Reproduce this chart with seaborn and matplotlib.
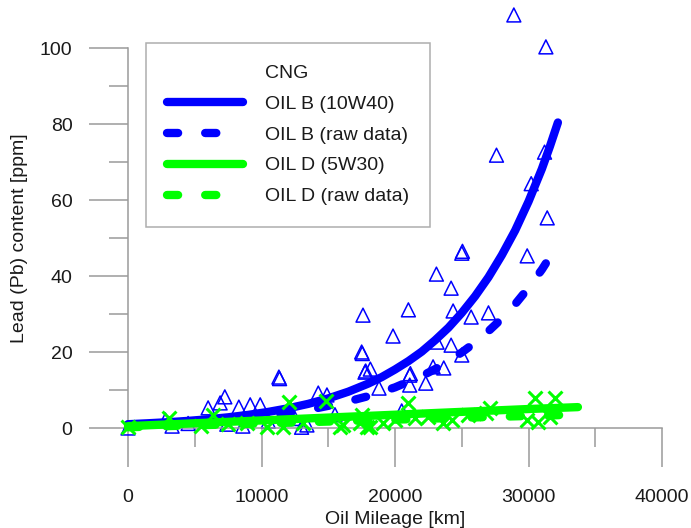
import matplotlib
matplotlib.use("Agg")
import matplotlib.pyplot as plt
from matplotlib.lines import Line2D
import seaborn as sns

# ---- data ----
oilB_raw_x = [0, 28900, 31300, 27600, 31200, 30200, 31400, 29900, 25000, 25050,
              23100, 24200, 17600, 21000, 24350, 25700, 27000, 19850, 17500, 17550,
              23150, 24200, 25000, 17750, 17800, 18150, 21100, 21150, 22850, 23650,
              18800, 21100, 22300, 11300, 11350, 14250, 14900, 6000, 6900, 7250,
              8300, 9150, 9900, 2800, 8600, 13400, 4500, 10500, 12500, 15500,
              13000, 20500, 3300, 7400]
oilB_raw_y = [0, 108.7, 100.3, 71.8, 72.6, 64.3, 55.3, 45.3, 46.0, 46.5,
              40.5, 36.8, 29.7, 31.1, 30.8, 29.2, 30.3, 24.2, 20.0, 19.6,
              22.6, 21.8, 19.2, 14.7, 15.0, 15.5, 13.9, 14.3, 16.1, 15.8,
              10.5, 11.3, 11.8, 13.4, 13.0, 9.2, 8.7, 5.3, 6.6, 8.2,
              5.5, 6.1, 6.1, 2.1, 0.5, 0.8, 1.2, 1.8, 2.5, 3.5,
              0.2, 4.5, 0.5, 1.0]

oilD_raw_x = [0, 3100, 6400, 8900, 10400, 11600, 12050, 13100, 14800, 15900,
              16100, 17400, 17500, 17900, 18100, 19100, 21000, 21500, 23600, 24300,
              27100, 29900, 30500, 30700, 31600, 32000, 5500, 7500, 25500, 22500,
              26800, 20000]
oilD_raw_y = [0.3, 2.6, 3.4, 1.3, 0.3, 0.3, 6.8, 1.3, 7.0, 0.3,
              0.8, 1.3, 3.4, 0.3, 0.3, 1.3, 6.6, 2.6, 1.3, 2.1,
              5.3, 2.1, 7.9, 1.6, 2.9, 7.9, 0.5, 1.0, 3.5, 3.0,
              4.0, 2.2]

oilB_fit_x = [0, 1500, 3000, 4500, 6000, 7500, 9000, 10500, 12000, 13500,
              15000, 16500, 18000, 19000, 20000, 21000, 22000, 23000, 24000, 25000,
              26000, 27000, 28000, 29000, 30000, 31000, 31600, 32200]
oilB_fit_y = [1.0, 1.25, 1.53, 1.88, 2.30, 2.82, 3.46, 4.24, 5.19, 6.36,
              7.8, 9.56, 11.7, 13.4, 15.4, 17.6, 20.1, 23.1, 26.4, 30.3,
              34.7, 39.7, 45.5, 52.0, 59.6, 68.2, 74.1, 80.4]

oilB_rawfit_x = [0, 2000, 4000, 6000, 8000, 10000, 12000, 14000, 16000, 18000,
                 20000, 22000, 23000, 24000, 25000, 26000, 27000, 28000, 29000, 30000,
                 31000, 31600]
oilB_rawfit_y = [0.91, 1.16, 1.49, 1.91, 2.44, 3.13, 4.0, 5.12, 6.55, 8.39,
                 10.7, 13.7, 15.5, 17.6, 19.9, 22.5, 25.5, 28.8, 32.6, 36.9,
                 41.7, 45.0]

oilD_fit_x = [0, 10000, 20000, 30000, 33700]
oilD_fit_y = [0.5, 2.0, 3.5, 5.0, 5.5]

oilD_rawfit_x = [0, 8000, 16000, 24000, 32400]
oilD_rawfit_y = [0.2, 1.0, 1.8, 2.6, 3.4]

legend_title = "CNG"
legend_labels = ["OIL B (10W40)", "OIL B (raw data)", "OIL D (5W30)", "OIL D (raw data)"]
x_label = "Oil Mileage [km]"
y_label = "Lead (Pb) content [ppm]"
x_major = [0, 10000, 20000, 30000, 40000]
x_minor = [5000, 15000, 25000, 35000]
y_major = [0, 20, 40, 60, 80, 100]
y_minor = [10, 30, 50, 70, 90]

# ---- style ----
sns.set_style("white")
plt.rcParams["font.family"] = ["Liberation Sans", "DejaVu Sans"]
plt.rcParams["lines.scale_dashes"] = False

BLUE = "#0000ff"
GREEN = "#00ff00"
GRAY = "#9a9a9a"
TXT = "#1a1a1a"
FS = 14
LW = 6
DASH = (0, (8, 19.5))

fig = plt.figure(figsize=(6.91, 5.28), dpi=100)
ax = fig.add_axes([0.108, 0.1030, 0.8694, 0.8924])

sns.scatterplot(x=oilB_raw_x, y=oilB_raw_y, marker="^", s=100,
                facecolor="none", edgecolor=BLUE, linewidth=1.1, ax=ax, zorder=2)
sns.lineplot(x=oilB_fit_x, y=oilB_fit_y, color=BLUE, linewidth=LW,
             solid_capstyle="round", solid_joinstyle="round", ax=ax, zorder=3)
sns.lineplot(x=oilB_rawfit_x, y=oilB_rawfit_y, color=BLUE, linewidth=LW,
             linestyle=DASH, dash_capstyle="round", ax=ax, zorder=3)
sns.scatterplot(x=oilD_raw_x, y=oilD_raw_y, marker="x", s=100,
                color=GREEN, linewidth=2.2, ax=ax, zorder=4)
sns.lineplot(x=oilD_fit_x, y=oilD_fit_y, color=GREEN, linewidth=LW,
             solid_capstyle="round", ax=ax, zorder=5)
sns.lineplot(x=oilD_rawfit_x, y=oilD_rawfit_y, color=GREEN, linewidth=LW,
             linestyle=DASH, dash_capstyle="round", ax=ax, zorder=5)

ax.set_xlim(-4000, 41000)
ax.set_ylim(-12, 112)

for s in ["top", "right"]:
    ax.spines[s].set_visible(False)
ax.spines["left"].set_position(("data", 0))
ax.spines["bottom"].set_position(("data", 0))
ax.spines["left"].set_bounds(0, 100)
ax.spines["bottom"].set_bounds(0, 40000)
for s in ["left", "bottom"]:
    ax.spines[s].set_color(GRAY)
    ax.spines[s].set_linewidth(1.1)

ax.set_xticks(x_major)
ax.set_yticks(y_major)
ax.set_xticks(x_minor, minor=True)
ax.set_yticks(y_minor, minor=True)

ax.tick_params(which="both", direction="out", color=GRAY, width=1.1,
               labelsize=FS, labelcolor=TXT, bottom=True, left=True)
ax.tick_params(which="major", length=28)
ax.tick_params(which="minor", length=14)
ax.tick_params(axis="x", which="major", pad=16)
ax.tick_params(axis="y", which="major", pad=12)

ax.set_xlabel(x_label, fontsize=FS, color=TXT)
ax.set_ylabel(y_label, fontsize=FS, color=TXT)
ax.xaxis.set_label_coords(0.5333, -0.0800)
ax.yaxis.set_label_coords(-0.077, 0.5)

handles = [
    Line2D([], [], color="none", label=legend_title),
    Line2D([], [], color=BLUE, lw=LW, solid_capstyle="round", label=legend_labels[0]),
    Line2D([], [], color=BLUE, lw=LW, linestyle=DASH, dash_capstyle="round", label=legend_labels[1]),
    Line2D([], [], color=GREEN, lw=LW, solid_capstyle="round", label=legend_labels[2]),
    Line2D([], [], color=GREEN, lw=LW, linestyle=DASH, dash_capstyle="round", label=legend_labels[3]),
]
leg = fig.legend(handles=handles, loc="upper left",
                 bbox_to_anchor=(146 / 691, 1 - 43 / 528),
                 fontsize=FS, frameon=True, fancybox=False, shadow=False,
                 borderpad=1.1, handlelength=3.9, handletextpad=1.1,
                 labelspacing=0.68, borderaxespad=0)
leg.get_frame().set_edgecolor(GRAY)
leg.get_frame().set_linewidth(1.1)
for t in leg.get_texts():
    t.set_color(TXT)

fig.savefig("out.png", dpi=100)
